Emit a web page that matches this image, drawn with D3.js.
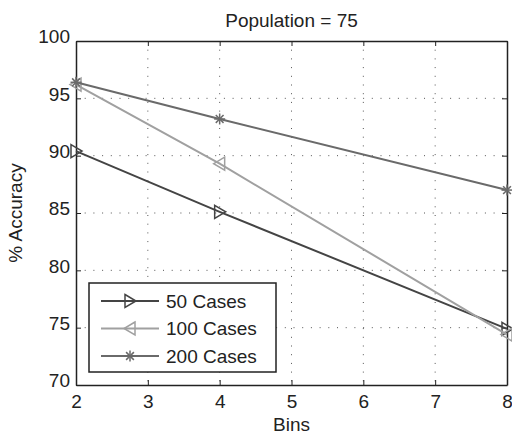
<!DOCTYPE html>
<html>
<head>
<meta charset="utf-8">
<script src="https://cdn.jsdelivr.net/npm/d3@7"></script>
<style>
  body { margin: 0; background: #fff; }
  text { font-family: "Liberation Sans", Arial, sans-serif; fill: #222; }
</style>
</head>
<body>
<div id="chart-container"></div>
<script>
// Data
const bins = [2, 4, 8];
const cases50 = [90.4, 85.1, 74.9];
const cases100 = [96.2, 89.3, 74.4];
const cases200 = [96.4, 93.2, 87.0];
const seriesNames = ["50 Cases", "100 Cases", "200 Cases"];
const xTicks = [2, 3, 4, 5, 6, 7, 8];
const yTicks = [70, 75, 80, 85, 90, 95, 100];

const margin = { top: 41, right: 5, bottom: 52, left: 76 };
const width = 512 - margin.left - margin.right;
const height = 437 - margin.top - margin.bottom;

const x = d3.scaleLinear().domain([2, 8]).range([0, width]);
const y = d3.scaleLinear().domain([70, 100]).range([height, 0]);

const svg = d3.select("#chart-container")
    .append("svg")
    .attr("width", 512)
    .attr("height", 437)
    .append("g")
    .attr("transform", `translate(${margin.left},${margin.top})`);

// Dotted grid
svg.append("g")
    .selectAll("line")
    .data(xTicks.slice(1, -1))
    .join("line")
    .attr("x1", d => x(d)).attr("x2", d => x(d))
    .attr("y1", 0).attr("y2", height)
    .attr("stroke", "#555")
    .attr("stroke-width", 1)
    .attr("stroke-dasharray", "1,7.7");

svg.append("g")
    .selectAll("line")
    .data(yTicks.slice(1, -1))
    .join("line")
    .attr("y1", d => y(d)).attr("y2", d => y(d))
    .attr("x1", 0).attr("x2", width)
    .attr("stroke", "#555")
    .attr("stroke-width", 1)
    .attr("stroke-dasharray", "1,7.7");

// Axes (MATLAB style: ticks inward on all four sides)
const fontSize = "19px";
const xAxis = svg.append("g")
    .attr("transform", `translate(0,${height})`)
    .call(d3.axisBottom(x).tickValues(xTicks).tickFormat(d3.format("d"))
        .tickSize(-5).tickPadding(10).tickSizeOuter(0));
const yAxis = svg.append("g")
    .call(d3.axisLeft(y).tickValues(yTicks).tickFormat(d3.format("d"))
        .tickSize(-5).tickPadding(6).tickSizeOuter(0));
svg.append("g")
    .call(d3.axisTop(x).tickValues(xTicks).tickSize(-5).tickFormat("").tickSizeOuter(0));
svg.append("g")
    .attr("transform", `translate(${width},0)`)
    .call(d3.axisRight(y).tickValues(yTicks).tickSize(-5).tickFormat("").tickSizeOuter(0));

svg.selectAll(".domain").attr("stroke", "#222").attr("stroke-width", 1.5);
svg.selectAll(".tick line").attr("stroke", "#222");
xAxis.selectAll("text").style("font-size", fontSize).attr("fill", "#222");
yAxis.selectAll("text").style("font-size", fontSize).attr("fill", "#222")
    .attr("dy", "0.1em");

// Series
const series = [
    { name: seriesNames[0], values: cases50, color: "#444", marker: "right" },
    { name: seriesNames[1], values: cases100, color: "#a0a0a0", marker: "left" },
    { name: seriesNames[2], values: cases200, color: "#6a6a6a", marker: "star" }
];

const line = d3.line()
    .x((d, i) => x(bins[i]))
    .y(d => y(d));

function drawMarker(g, type, color) {
    if (type === "right") {
        g.append("path").attr("d", "M-5,-6.5L6,0L-5,6.5Z")
            .attr("fill", "none").attr("stroke", color).attr("stroke-width", 1.5);
    } else if (type === "left") {
        g.append("path").attr("d", "M5,-6.5L-6,0L5,6.5Z")
            .attr("fill", "none").attr("stroke", color).attr("stroke-width", 1.5);
    } else {
        const r = 5.5;
        for (let k = 0; k < 4; k++) {
            const a = k * Math.PI / 4;
            g.append("line")
                .attr("x1", -r * Math.cos(a)).attr("y1", -r * Math.sin(a))
                .attr("x2", r * Math.cos(a)).attr("y2", r * Math.sin(a))
                .attr("stroke", color).attr("stroke-width", 1.5);
        }
    }
}

series.forEach(s => {
    svg.append("path")
        .datum(s.values)
        .attr("fill", "none")
        .attr("stroke", s.color)
        .attr("stroke-width", 2)
        .attr("d", line);
    s.values.forEach((v, i) => {
        const g = svg.append("g").attr("transform", `translate(${x(bins[i])},${y(v)})`);
        drawMarker(g, s.marker, s.color);
    });
});

// Legend
const legend = svg.append("g").attr("transform", "translate(13,242)");
legend.append("rect")
    .attr("width", 187).attr("height", 89)
    .attr("fill", "#fff").attr("stroke", "#222").attr("stroke-width", 1.5);
series.forEach((s, i) => {
    const row = legend.append("g").attr("transform", `translate(0,${18 + i * 27.5})`);
    row.append("line").attr("x1", 12).attr("x2", 70).attr("y1", 0).attr("y2", 0)
        .attr("stroke", s.color).attr("stroke-width", 2);
    drawMarker(row.append("g").attr("transform", "translate(41,0)"), s.marker, s.color);
    row.append("text").attr("x", 77).attr("dy", "0.35em")
        .style("font-size", "19px").text(s.name);
});

// Labels
svg.append("text")
    .attr("x", width / 2).attr("y", -14)
    .attr("text-anchor", "middle").style("font-size", "19px")
    .text("Population = 75");
svg.append("text")
    .attr("x", width / 2).attr("y", height + 46)
    .attr("text-anchor", "middle").style("font-size", "19px")
    .text("Bins");
svg.append("text")
    .attr("transform", `translate(-54,${height / 2}) rotate(-90)`)
    .attr("text-anchor", "middle").style("font-size", "19px")
    .text("% Accuracy");
</script>
</body>
</html>
